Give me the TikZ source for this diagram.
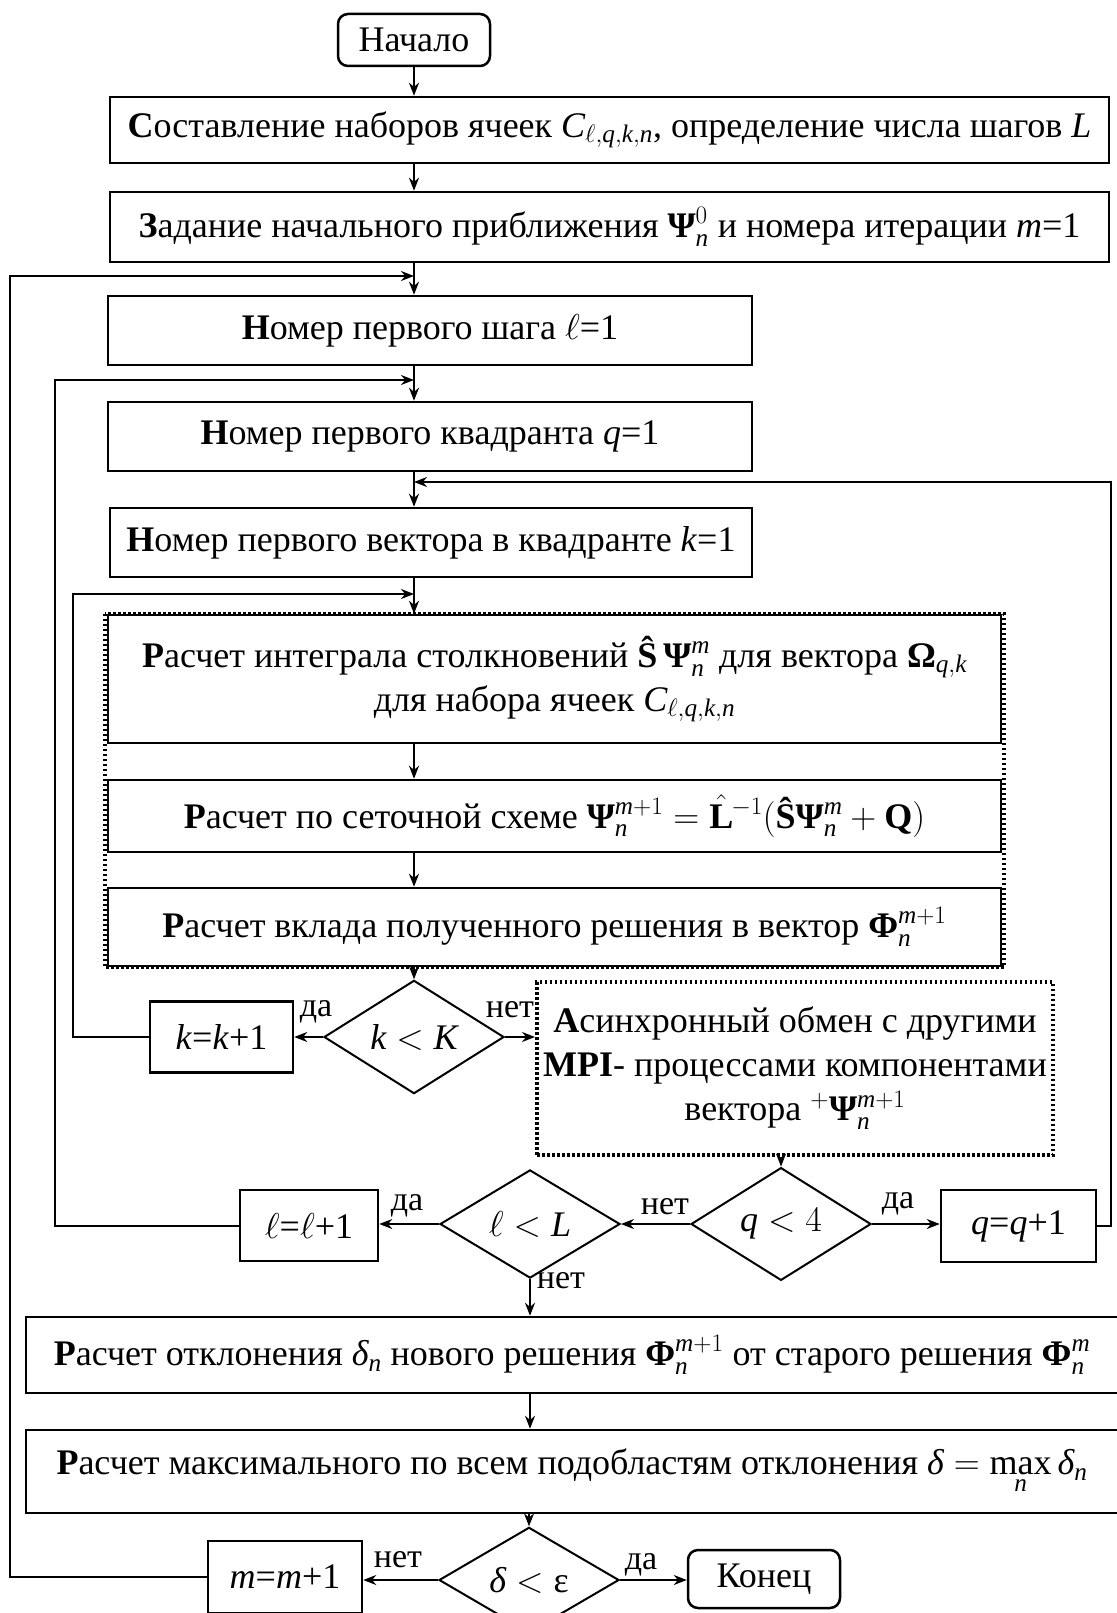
\documentclass[tikz,border=0pt]{standalone}
\usepackage{fix-cm}
\usepackage{amsmath}
\usepackage{fontspec}
\setmainfont{Liberation Serif}
\usetikzlibrary{shapes.geometric,arrows.meta}
\newcommand{\bG}[1]{\text{\bfseries #1}}
\newcommand{\iv}[1]{\text{\itshape #1}}
\begin{document}
\begin{tikzpicture}[x=1pt,y=-1pt,
  every node/.style={font=\fontsize{36}{44}\selectfont},
  box/.style={draw,line width=2.5pt,inner sep=0pt,align=center},
  term/.style={box,rounded corners=10pt},
  dec/.style={draw,diamond,line width=2pt,inner sep=0pt,minimum width=180pt,minimum height=70pt},
  arr/.style={line width=2pt,-{Stealth[length=13pt,width=10pt]}},
  dots/.style={line width=4pt,dash pattern=on 2.5pt off 2.5pt},
  lab/.style={inner sep=0pt,font=\fontsize{34}{40}\selectfont}]
\useasboundingbox (0,0) rectangle (1116,1613);
\fill[white] (0,0) rectangle (1116,1613);

\node[term,minimum width=152pt,minimum height=52pt] (start) at (414,40) {Начало};
\node[box,minimum width=999pt,minimum height=66pt] (b1) at (609.5,130) {\textbf{С}оставление наборов ячеек $\iv{C}_{\ell,\iv{q},\iv{k},\iv{n}}$, определение числа шагов \textit{L}};
\node[box,minimum width=999pt,minimum height=70pt] (b2) at (609.5,227) {\textbf{З}адание начального приближения $\bG{Ψ}_{\iv{n}}^0$ и номера итерации \textit{m}=1};
\node[box,minimum width=644pt,minimum height=69pt] (b3) at (430,330.5) {\textbf{Н}омер первого шага $\ell$=1};
\node[box,minimum width=644pt,minimum height=69pt] (b4) at (430,436.5) {\textbf{Н}омер первого квадранта \textit{q}=1};
\node[box,minimum width=642pt,minimum height=69pt] (b5) at (431,542.5) {\textbf{Н}омер первого вектора в квадранте \textit{k}=1};
\node[box,minimum width=893pt,minimum height=128pt] (bA) at (554.5,679) {\textbf{Р}асчет интеграла столкновений $\bG{Ŝ}\,\bG{Ψ}_{\iv{n}}^{\iv{m}}$ для вектора $\bG{Ω}_{\iv{q},\iv{k}}$\\ для набора ячеек $\iv{C}_{\ell,\iv{q},\iv{k},\iv{n}}$};
\node[box,minimum width=893pt,minimum height=72pt] (bB) at (554.5,816) {\textbf{Р}асчет по сеточной схеме $\bG{Ψ}_{\iv{n}}^{\iv{m}+1}=\hat{\bG{L}}\mkern-1mu{}^{-1}(\bG{Ŝ}\bG{Ψ}_{\iv{n}}^{\iv{m}}+\bG{Q})$};
\node[box,minimum width=893pt,minimum height=78pt] (bC) at (554.5,927) {\textbf{Р}асчет вклада полученного решения в вектор $\bG{Φ}_{\iv{n}}^{\iv{m}+1}$};
\draw[dots] ([xshift=-2pt]bA.north west) rectangle ([xshift=2pt]bC.south east);

\node[dec] (dk) at (414,1037) {$\iv{k}<\iv{K}$};
\node[box,minimum width=143pt,minimum height=71pt] (bk) at (221.5,1037) {\textit{k}=\textit{k}+1};
\node[box,dots,minimum width=516pt,minimum height=173pt] (mpi) at (795,1068.5) {\textbf{А}синхронный обмен с другими\\ \textbf{MPI}- процессами компонентами\\ вектора $^{+}\bG{Ψ}_{\iv{n}}^{\iv{m}+1}$};
\node[dec] (dq) at (781,1224) {$\iv{q}<4$};
\node[box,minimum width=155pt,minimum height=72pt] (bq) at (1018.5,1226) {\textit{q}=\textit{q}+1};
\node[dec] (dl) at (530,1224) {$\ell<\iv{L}$};
\node[box,minimum width=138pt,minimum height=71pt] (bl) at (309,1225.5) {$\ell$=$\ell$+1};
\node[box,minimum width=1092pt,minimum height=76pt] (b6) at (572,1355) {\textbf{Р}асчет отклонения $\iv{δ}_{\iv{n}}$ нового решения $\bG{Φ}_{\iv{n}}^{\iv{m}+1}$ от старого решения $\bG{Φ}_{\iv{n}}^{\iv{m}}$};
\node[box,minimum width=1092pt,minimum height=83pt] (b7) at (572,1471.5) {\textbf{Р}асчет максимального по всем подобластям отклонения $\iv{δ}=\max\limits_{\iv{n}}\iv{δ}_{\iv{n}}$};
\node[dec,minimum height=66pt] (dd) at (529,1580) {$\iv{δ}<\text{ε}$};
\node[box,minimum width=154pt,minimum height=72pt] (bm) at (285,1577) {\textit{m}=\textit{m}+1};
\node[term,minimum width=152pt,minimum height=58pt] (end) at (764,1579) {Конец};

\coordinate (mx) at (414,0);
\coordinate (j1) at (414,276);
\coordinate (j2) at (414,380);
\coordinate (j3) at (414,482);
\coordinate (j4) at (414,594);
\coordinate (l1) at (10,0);
\coordinate (l2) at (55,0);
\coordinate (l3) at (1111,0);
\coordinate (l4) at (73,0);

\draw[arr] (start.south) -- (start.south |- b1.north);
\draw[arr] (b1.south -| mx) -- (b2.north -| mx);
\draw[arr] (b2.south -| mx) -- (b3.north -| mx);
\draw[arr] (b3.south -| mx) -- (b4.north -| mx);
\draw[arr] (b4.south -| mx) -- (b5.north -| mx);
\draw[arr] (b5.south -| mx) -- (bA.north -| mx);
\draw[arr] (bA.south -| mx) -- (bB.north -| mx);
\draw[arr] (bB.south -| mx) -- (bC.north -| mx);
\draw[arr] (bC.south -| mx) -- (dk.north);
\draw[arr] (dk.west) -- (bk.east);
\draw[arr] (dk.east) -- (dk.east -| mpi.west);
\draw[arr] (mpi.south -| dq) -- (dq.north);
\draw[arr] (dq.east) -- (dq.east -| bq.west);
\draw[arr] (dq.west) -- (dl.east);
\draw[arr] (dl.west) -- (dl.west -| bl.east);
\draw[arr] (dl.south) -- (dl.south |- b6.north);
\draw[arr] (b6.south -| dl) -- (b7.north -| dl);
\draw[arr] (b7.south -| dd) -- (dd.north);
\draw[arr] (dd.west) -- (dd.west -| bm.east);
\draw[arr] (dd.east) -- (dd.east -| end.west);

\draw[arr] (bk.west) -- (bk.west -| l4) |- (j4);
\draw[arr] (bl.west) -- (bl.west -| l2) |- (j2);
\draw[arr] (bq.east) -- (bq.east -| l3) |- (j3);
\draw[arr] (bm.west) -- (bm.west -| l1) |- (j1);

\node[lab] (ya1) at (316,1012) {да};
\node[lab] (no1) at (510,1010) {нет};
\node[lab] (ya2) at (407,1206) {да};
\node[lab] (no2) at (665,1207) {нет};
\node[lab] (ya3) at (898,1204) {да};
\node[lab] (no3) at (561,1281) {нет};
\node[lab] (no4) at (398,1560) {нет};
\node[lab] (ya4) at (641,1565) {да};
\end{tikzpicture}
\end{document}
